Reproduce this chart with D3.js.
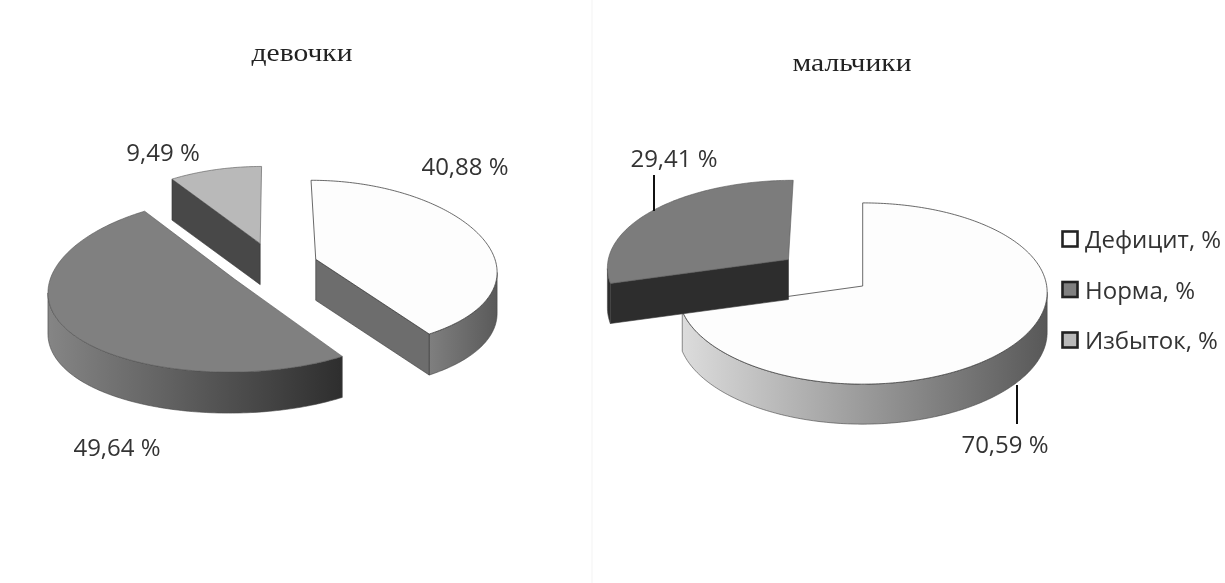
<!DOCTYPE html>
<html><head><meta charset="utf-8">
<script src="https://cdn.jsdelivr.net/npm/d3@7/dist/d3.min.js"></script>
<style>html,body{margin:0;padding:0;background:#fff}svg{display:block}</style>
</head><body>
<svg id="c" width="1225" height="583"></svg>
<script>
const categories = ["Дефицит, %", "Норма, %", "Избыток, %"];
const girlsValues = [40.88, 49.64, 9.49];
const boysValues = [70.59, 29.41, 0];
const girlsTitle = "девочки";
const boysTitle = "мальчики";
const fmt = v => v.toFixed(2).replace(".", ",") + " %";

const topColor = d3.scaleOrdinal().domain(categories).range(["#fdfdfd", "#808080", "#b9b9b9"]);

const svg = d3.select("#c");
const defs = svg.append("defs");
const root = svg.append("g").style("filter", "blur(0.6px)");

root.append("line").attr("x1", 592).attr("x2", 592).attr("y1", 0).attr("y2", 583).attr("stroke", "#f3f3f3");

const line = d3.line();
const rad = Math.PI / 180;

const charts = [
  { id: "g", values: girlsValues, title: girlsTitle, titleX: 302, titleY: 61, titleLen: 101,
    cx: 273, cy: 266, R: 181, Ry: 85, px: .125, py: .065, ex: 45, ez: .28, h: 41,
    explode: [1, 1, 1],
    outerStops: [["#5a5a5a", "#7f7f7f"], ["#2e2e2e", "#858585"], null],
    innerColor: ["#6d6d6d", "#555", "#484848"],
    topFill: ["#fdfdfd", "#808080", "#b9b9b9"],
    labels: [[465, 175], [117, 456], [163, 161]], leaders: [] },
  { id: "b", values: boysValues, title: boysTitle, titleX: 852, titleY: 71, titleLen: 119,
    cx: 862.7, cy: 286, R: 184, Ry: 90, px: .07, py: .083, ex: 95, ez: .5, h: 40,
    explode: [0, 1, 0],
    outerStops: [["#585858", "#dcdcdc"], ["#2d2d2d", "#2d2d2d"], null],
    innerColor: ["#6d6d6d", "#2d2d2d", "#484848"],
    topFill: ["#fdfdfd", "#7c7c7c", "#b9b9b9"],
    labels: [[1005, 453], [674, 167]], leaders: [[1017, 385, 1017, 424], [654, 175, 654, 211]] }
];

charts.forEach(ch => {
  const arcs = d3.pie().sort(null).value(d => d)(ch.values);
  const g = root.append("g");
  arcs.forEach((a, i) => {
    if (a.value <= 0) return;
    const mid = (a.startAngle + a.endAngle) / 2;
    const e = ch.explode[i];
    const proj = (th, r, dy = 0) => {
      const Z = r * Math.cos(th) + e * ch.ez * Math.cos(mid);
      const X = r * ch.R * Math.sin(th) + e * ch.ex * Math.sin(mid);
      return [ch.cx + X / (1 + ch.px * Z), ch.cy - ch.Ry * Z / (1 + ch.py * Z) + dy];
    };
    const full = d3.range(0, 360.5, 1).map(d => d * rad);
    const thMax = d3.greatest(full, t => proj(t, 1)[0]);
    const thMin = d3.least(full, t => proj(t, 1)[0]);
    const sweep = (t0, t1) => { const n = Math.max(2, Math.ceil((t1 - t0) / rad)); return d3.range(n + 1).map(k => t0 + (t1 - t0) * k / n); };

    const sideWall = th => {
      const pts = [proj(th, 0), proj(th, 1), proj(th, 1, ch.h), proj(th, 0, ch.h)];
      g.append("path").attr("d", line(pts) + "Z").attr("fill", ch.innerColor[i])
        .attr("stroke", "#333").attr("stroke-width", .6);
    };
    if (Math.sin(a.startAngle) < -1e-6) sideWall(a.startAngle);

    const w0 = Math.max(a.startAngle, thMax), w1 = Math.min(a.endAngle, thMin);
    if (w1 > w0 && ch.outerStops[i]) {
      const th = sweep(w0, w1);
      const topE = th.map(t => proj(t, 1)), botE = th.map(t => proj(t, 1, ch.h)).reverse();
      const xs = topE.map(p => p[0]);
      const gid = `grad-${ch.id}-${i}`;
      const lg = defs.append("linearGradient").attr("id", gid).attr("gradientUnits", "userSpaceOnUse")
        .attr("x1", d3.max(xs)).attr("x2", d3.min(xs)).attr("y1", 0).attr("y2", 0);
      lg.append("stop").attr("offset", 0).attr("stop-color", ch.outerStops[i][0]);
      lg.append("stop").attr("offset", 1).attr("stop-color", ch.outerStops[i][1]);
      g.append("path").attr("d", line(topE.concat(botE)) + "Z").attr("fill", `url(#${gid})`)
        .attr("stroke", "#444").attr("stroke-width", .6);
    }
    if (Math.sin(a.endAngle) > 1e-6) sideWall(a.endAngle);

    const rim = sweep(a.startAngle, a.endAngle).map(t => proj(t, 1));
    g.append("path").attr("d", line([proj(a.startAngle, 0)].concat(rim)) + "Z")
      .attr("fill", ch.topFill[i]).attr("stroke", i === 0 ? "#444" : "#555").attr("stroke-width", i === 0 ? .8 : .6);
  });

  ch.leaders.forEach(l => root.append("line").attr("x1", l[0]).attr("y1", l[1]).attr("x2", l[2]).attr("y2", l[3])
    .attr("stroke", "#111").attr("stroke-width", 2));

  ch.labels.forEach((p, i) => root.append("text").attr("x", p[0]).attr("y", p[1]).attr("text-anchor", "middle")
    .attr("font-family", "'Open Sans'").attr("font-size", 24).attr("fill", "#333").text(fmt(ch.values[i])));

  root.append("text").attr("x", ch.titleX).attr("y", ch.titleY).attr("text-anchor", "middle")
    .attr("font-family", "'Liberation Serif'").attr("font-size", 25.5).attr("fill", "#222")
    .attr("textLength", ch.titleLen).attr("lengthAdjust", "spacingAndGlyphs").text(ch.title);
});

const legendY = d3.scalePoint().domain(categories).range([239, 340]);
const legend = root.append("g");
categories.forEach(c => {
  legend.append("rect").attr("x", 1062.5).attr("y", legendY(c) - 7.5).attr("width", 15).attr("height", 15)
    .attr("fill", topColor(c)).attr("stroke", "#222").attr("stroke-width", 2.6);
  legend.append("text").attr("x", 1085).attr("y", legendY(c) + 9).attr("font-family", "'Open Sans'")
    .attr("font-size", 24).attr("fill", "#333").text(c);
});
</script>
</body></html>
